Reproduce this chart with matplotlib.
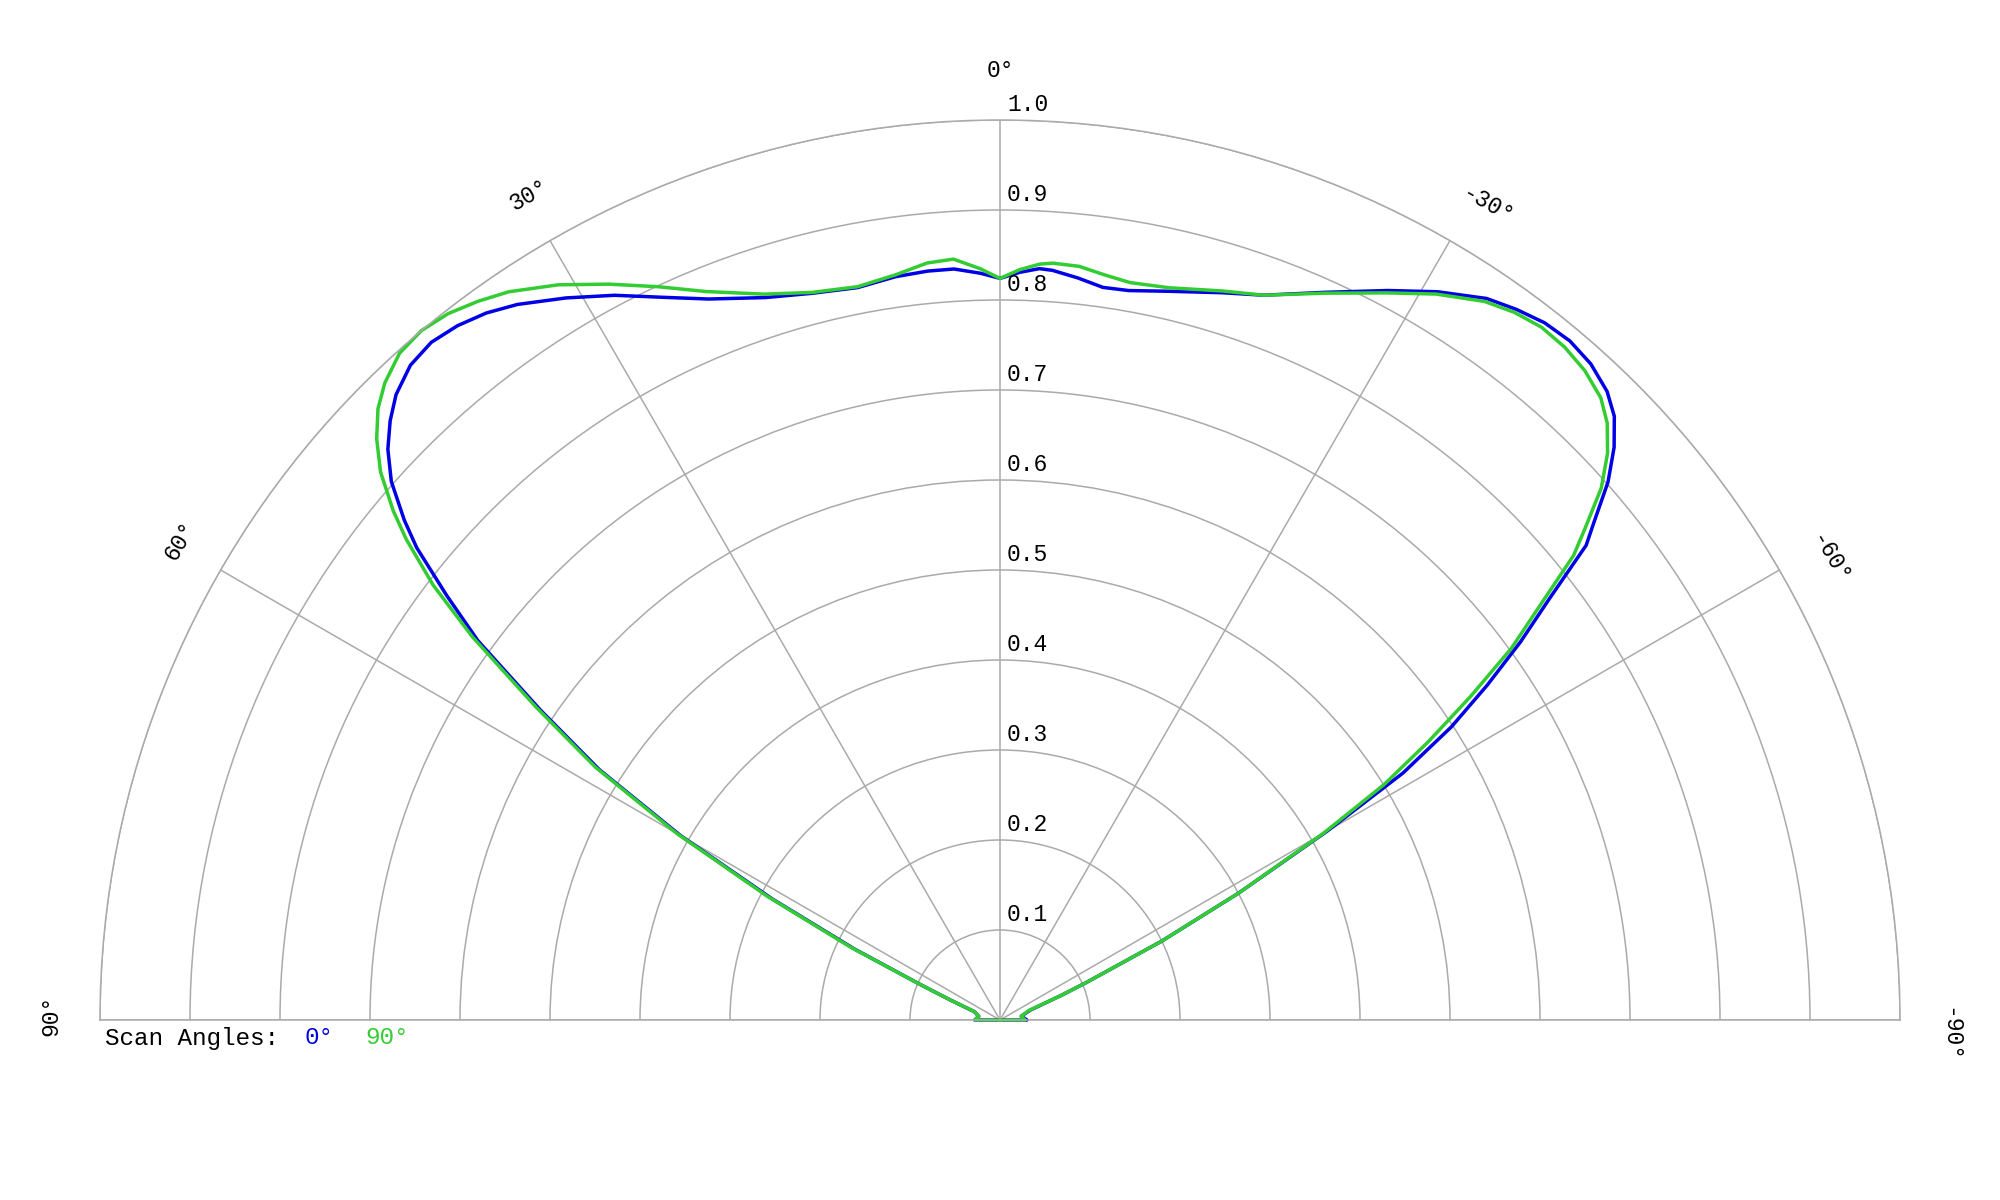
import numpy as np
import matplotlib
matplotlib.use("Agg")
import matplotlib.pyplot as plt

plt.rcParams['font.family'] = ['Liberation Mono', 'DejaVu Sans Mono']

# angle (deg), positive to the left of 0; the first and last entries run the
# trace along the baseline into the centre
angles_deg = [-90, -90, -80, -72, -68, -66.5, -64, -62, -60, -58.5, -57,
              -55.5, -54, -52.5, -51, -50, -48.5, -47, -45.5, -44, -42,
              -40, -38, -36, -34, -31, -28, -24, -20, -17, -13,
              -10, -8, -6, -4, -3, -1.5, 0,
              1.5, 3.5, 5.5, 8, 11, 14.5, 18, 22, 25, 28,
              31, 34, 36, 38, 40, 42, 44, 45.5, 47, 48.5,
              50, 51, 52.5, 54, 56, 58, 60, 62, 64, 66,
              68, 72, 80, 90, 90]

# scan angle 0 deg
scan0 = [0.0, 0.030, 0.024, 0.035, 0.075, 0.105, 0.20, 0.30, 0.42, 0.525, 0.598,
         0.657, 0.715, 0.77, 0.838, 0.862, 0.902, 0.933, 0.957, 0.971, 0.981,
         0.985, 0.983, 0.976, 0.967, 0.944, 0.918, 0.885, 0.857, 0.845, 0.831,
         0.823, 0.822, 0.829, 0.835, 0.836, 0.831, 0.824,
         0.830, 0.836, 0.836, 0.834, 0.829, 0.834, 0.844, 0.864, 0.886, 0.912,
         0.936, 0.959, 0.971, 0.979, 0.983, 0.979, 0.966, 0.950, 0.930, 0.903,
         0.864, 0.834, 0.775, 0.717, 0.616, 0.525, 0.41, 0.287, 0.18, 0.097,
         0.06, 0.03, 0.024, 0.028, 0.0]

# scan angle 90 deg
scan90 = [0.0, 0.028, 0.024, 0.033, 0.075, 0.105, 0.20, 0.30, 0.415, 0.50, 0.567,
          0.634, 0.702, 0.756, 0.82, 0.848, 0.892, 0.923, 0.946, 0.961, 0.971,
          0.976, 0.977, 0.972, 0.963, 0.941, 0.915, 0.884, 0.857, 0.847, 0.835,
          0.832, 0.836, 0.842, 0.843, 0.841, 0.834, 0.824,
          0.835, 0.847, 0.845, 0.836, 0.830, 0.835, 0.848, 0.873, 0.899, 0.926,
          0.953, 0.976, 0.987, 0.996, 1.000, 0.997, 0.984, 0.969, 0.947, 0.919,
          0.880, 0.849, 0.794, 0.725, 0.622, 0.53, 0.415, 0.293, 0.185, 0.098,
          0.06, 0.03, 0.024, 0.028, 0.0]

scan_labels = ["0°", "90°"]
scan_colors = ["#0000e6", "#33cc33"]

r_ticks = [0.1, 0.2, 0.3, 0.4, 0.5, 0.6, 0.7, 0.8, 0.9, 1.0]
theta_ticks = [-90, -60, -30, 0, 30, 60, 90]

grid_col = "#aaaaaa"

fig = plt.figure(figsize=(20, 12), dpi=100)
# polar axes keeps a square box; the half disc sits in the middle of it
ax = fig.add_axes([0.05, -0.225, 0.9, 1.5], projection='polar')
ax.set_theta_zero_location('N')
ax.set_thetamin(-90)
ax.set_thetamax(90)
ax.set_ylim(0, 1.0)

theta = np.deg2rad(angles_deg)
ax.plot(theta, scan0, color=scan_colors[0], lw=2.5, solid_joinstyle='round',
        clip_on=False)
ax.plot(theta, scan90, color=scan_colors[1], lw=2.5, solid_joinstyle='round',
        clip_on=False)

ax.set_yticks(r_ticks)
ax.set_yticklabels([])
ax.set_xticks(np.deg2rad(theta_ticks))
ax.set_xticklabels([])
ax.tick_params(length=0)
ax.grid(True, color=grid_col, linewidth=1.1)
for s in ax.spines.values():
    s.set_color(grid_col)
    s.set_linewidth(1.1)

fs = 16.6
for r in r_ticks:
    ax.annotate("%.1f" % r, xy=(0, r), xytext=(5, 3), textcoords='offset points',
                ha='left', va='bottom', fontsize=fs)

for a in theta_ticks:
    if a < 0:
        pos = a - 0.9
    elif a > 0:
        pos = a - 0.3
    else:
        pos = 0
    ax.text(np.deg2rad(pos), 1.055, "%d°" % a, rotation=a, rotation_mode='anchor',
            ha='center', va='center', fontsize=fs)

# legend line under the plot
ly = 0.135
fig.text(0.0525, ly, "Scan Angles:", ha='left', va='center', fontsize=17.5)
fig.text(0.1525, ly, scan_labels[0], ha='left', va='center',
         fontsize=17.5, color=scan_colors[0])
fig.text(0.1825, ly, scan_labels[1], ha='left', va='center',
         fontsize=17.5, color=scan_colors[1])

fig.savefig("out.png", dpi=100, facecolor='white')
